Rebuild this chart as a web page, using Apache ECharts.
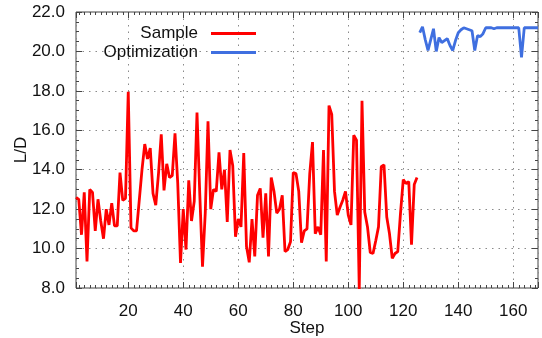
<!DOCTYPE html>
<html>
<head>
<meta charset="utf-8">
<script src="https://cdn.jsdelivr.net/npm/echarts@6/dist/echarts.min.js"></script>
<style>
html,body{margin:0;padding:0;background:#fff;}
#chart{width:542px;height:338px;}
</style>
</head>
<body>
<div id="chart"></div>
<script>
// Data
const sampleFirstStep = 1;
const sampleValues = [
  12.6, 12.5, 10.7, 12.85, 9.35, 13.0, 12.85, 10.9, 12.5, 11.4,
  10.5, 12.0, 11.2, 12.3, 11.15, 11.15, 13.85, 12.45, 12.55, 17.95,
  11.05, 10.9, 10.9, 12.45, 14.0, 15.3, 14.55, 15.1, 12.8, 12.2,
  13.8, 15.8, 12.95, 14.3, 13.6, 13.7, 15.85, 13.3, 9.27, 12.0,
  9.95, 13.46, 11.4, 12.4, 16.9, 12.8, 9.08, 11.8, 16.45, 12.0,
  13.0, 12.9, 14.88, 13.0, 14.0, 11.35, 15.0, 14.2, 10.6, 11.5,
  11.1, 14.85, 10.1, 9.3, 11.5, 9.6, 12.7, 13.05, 10.55, 12.8,
  9.6, 13.6, 12.9, 11.8, 12.0, 12.7, 9.85, 9.95, 10.35, 13.85,
  13.8, 12.9, 10.3, 10.9, 11.0, 13.8, 15.4, 10.75, 11.1, 10.7,
  15.0, 9.35, 17.25, 16.8, 12.9, 11.7, 12.1, 12.45, 12.9, 11.7,
  11.2, 15.75, 15.5, 7.95, 17.5, 11.85, 11.1, 9.8, 9.75, 10.4,
  11.1, 14.15, 14.25, 11.6, 10.75, 9.5, 9.75, 9.85, 11.8, 13.5,
  13.3, 13.4, 10.2, 13.25, 13.6
];
const optFirstStep = 126;
const optValues = [
  20.95, 21.25, 20.6, 20.05, 20.6, 21.15, 20.0, 20.7, 20.45, 20.55,
  20.65, 20.3, 20.05, 20.55, 20.95, 21.1, 21.2, 21.15, 21.1, 21.05,
  20.05, 20.8, 20.75, 20.9, 21.2, 21.2, 21.2, 21.15, 21.2, 21.2,
  21.2, 21.2, 21.2, 21.2, 21.2, 21.2, 21.2, 19.7, 21.2, 21.2,
  21.2, 21.2, 21.2, 21.2
];
const xTickLabels = [20, 40, 60, 80, 100, 120, 140, 160];
const yTickLabels = ['8.0','10.0','12.0','14.0','16.0','18.0','20.0','22.0'];
const seriesNames = ['Sample', 'Optimization'];

const samplePts = sampleValues.map((v, i) => [sampleFirstStep + i, v]);
const optPts = optValues.map((v, i) => [optFirstStep + i, v]);

const FONT = 'Liberation Sans';
const gridLine = { show: true, lineStyle: { color: '#8a8a8a', type: [1.5, 5], width: 1 } };

const xBase = {
  type: 'value', min: 1, max: 169, splitNumber: 8,
  axisLine: { show: false },
  axisTick: { show: true, inside: true, length: 6, lineStyle: { color: '#444' } },
  minorTick: { show: true, splitNumber: 10, length: 3, lineStyle: { color: '#444' } },
};
const yBase = {
  type: 'value', min: 8, max: 22, interval: 2,
  axisLine: { show: false },
  axisTick: { show: true, inside: true, length: 6, lineStyle: { color: '#444' } },
  minorTick: { show: true, splitNumber: 4, length: 3, lineStyle: { color: '#444' } },
};

const chart = echarts.init(document.getElementById('chart'), null, { renderer: 'canvas' });
chart.setOption({
  animation: false,
  backgroundColor: '#fff',
  grid: { left: 76, right: 4, top: 12, bottom: 50, containLabel: false, outerBoundsMode: 'none',
          show: true, borderColor: '#444', borderWidth: 1, backgroundColor: 'transparent' },
  legend: [
    { data: [seriesNames[0]], right: 281, top: 20, align: 'right', icon: 'rect', itemWidth: 45, itemHeight: 3, itemGap: 0,
      textStyle: { fontFamily: FONT, fontSize: 17, color: '#111', padding: [0, 8, 0, 0] } },
    { data: [seriesNames[1]], right: 281, top: 39, align: 'right', icon: 'rect', itemWidth: 45, itemHeight: 3, itemGap: 0,
      textStyle: { fontFamily: FONT, fontSize: 17, color: '#111', padding: [0, 8, 0, 0] } }
  ],
  xAxis: [
    Object.assign({}, xBase, {
      position: 'bottom',
      name: 'Step', nameLocation: 'middle', nameGap: 32, nameMoveOverlap: false,
      nameTextStyle: { fontFamily: FONT, fontSize: 17, color: '#111' },
      splitLine: gridLine,
      axisLabel: {
        margin: 15, fontFamily: FONT, fontSize: 17, color: '#111',
        formatter: v => (xTickLabels.indexOf(v) >= 0 ? String(v) : '')
      }
    }),
    Object.assign({}, xBase, { position: 'top', axisLabel: { show: false }, splitLine: { show: false } })
  ],
  yAxis: [
    Object.assign({}, yBase, {
      position: 'left',
      name: 'L/D', nameLocation: 'middle', nameGap: 46, nameRotate: 90, nameMoveOverlap: false,
      nameTextStyle: { fontFamily: FONT, fontSize: 17, color: '#111' },
      splitLine: gridLine,
      axisLabel: {
        margin: 11, fontFamily: FONT, fontSize: 17, color: '#111',
        formatter: v => yTickLabels[Math.round((v - 8) / 2)]
      }
    }),
    Object.assign({}, yBase, { position: 'right', axisLabel: { show: false }, splitLine: { show: false } })
  ],
  series: [
    { name: seriesNames[0], type: 'line', data: samplePts, showSymbol: false, symbol: 'none',
      lineStyle: { color: '#ff0000', width: 2.8 }, itemStyle: { color: '#ff0000' }, clip: true, z: 3 },
    { name: seriesNames[1], type: 'line', data: optPts, showSymbol: false, symbol: 'none',
      lineStyle: { color: '#3f6fe0', width: 2.8 }, itemStyle: { color: '#3f6fe0' }, clip: true, z: 3 }
  ]
});
</script>
</body>
</html>
